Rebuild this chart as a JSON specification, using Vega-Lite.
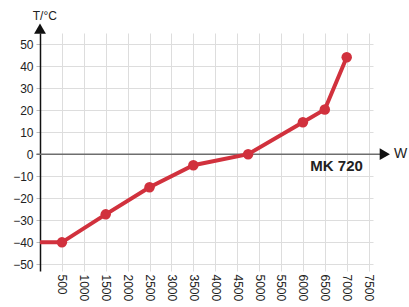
{
  "$schema": "https://vega.github.io/schema/vega-lite/v6.json",
  "width": 333,
  "height": 238,
  "autosize": {"type": "none"},
  "padding": {"left": 40, "top": 33, "right": 36, "bottom": 36},
  "config": {
    "view": {"stroke": null},
    "font": "Liberation Sans",
    "axis": {"gridColor": "#dddddd", "gridWidth": 1, "labelColor": "#222222", "labelFontSize": 12, "labelOverlap": false, "labelFlush": false}
  },
  "datasets": {
    "curve": [
      {"w": 0, "t": -40, "marker": false},
      {"w": 500, "t": -40, "marker": true},
      {"w": 1500, "t": -27.3, "marker": true},
      {"w": 2500, "t": -15, "marker": true},
      {"w": 3500, "t": -5, "marker": true},
      {"w": 4750, "t": 0, "marker": true},
      {"w": 6000, "t": 14.5, "marker": true},
      {"w": 6500, "t": 20.3, "marker": true},
      {"w": 7000, "t": 44, "marker": true}
    ]
  },
  "layer": [
    {
      "data": {"values": [{"w": -80, "w2": 7800, "t": 0}]},
      "mark": {"type": "rule", "color": "#6e6e6e", "strokeWidth": 1.5},
      "encoding": {
        "x": {"field": "w", "type": "quantitative", "scale": {"domain": [0, 7600], "nice": false, "zero": false},
          "axis": {"title": null, "format": "d", "tickCount": 40, "values": [500, 1000, 1500, 2000, 2500, 3000, 3500, 4000, 4500, 5000, 5500, 6000, 6500, 7000, 7500],
            "labelAngle": 90, "labelAlign": "left", "labelBaseline": "middle", "ticks": false, "domain": false, "labelPadding": 3, "grid": true, "orient": "bottom"}},
        "x2": {"field": "w2"},
        "y": {"field": "t", "type": "quantitative", "scale": {"domain": [-53, 55], "nice": false, "zero": false},
          "axis": {"title": null, "format": "d", "tickCount": 40, "values": [-50, -40, -30, -20, -10, 0, 10, 20, 30, 40, 50], "domain": true, "domainColor": "#111111", "domainWidth": 1.5,
            "ticks": true, "tickColor": "#bbbbbb", "tickSize": 4, "labelPadding": 3, "grid": true, "orient": "left"}}
      }
    },
    {
      "data": {"name": "curve"},
      "mark": {"type": "line", "color": "#d1313d", "strokeWidth": 4},
      "encoding": {
        "x": {"field": "w", "type": "quantitative"},
        "y": {"field": "t", "type": "quantitative"}
      }
    },
    {
      "data": {"name": "curve"},
      "transform": [{"filter": "datum.marker"}],
      "mark": {"type": "point", "filled": true, "color": "#d1313d", "size": 110, "opacity": 1},
      "encoding": {
        "x": {"field": "w", "type": "quantitative"},
        "y": {"field": "t", "type": "quantitative"}
      }
    },
    {
      "data": {"values": [{"w": 0, "t": 57, "shape": "triangle-up"}, {"w": 7870, "t": 0, "shape": "triangle-right"}]},
      "mark": {"type": "point", "filled": true, "color": "#111111", "size": 140, "opacity": 1},
      "encoding": {
        "x": {"field": "w", "type": "quantitative"},
        "y": {"field": "t", "type": "quantitative"},
        "shape": {"field": "shape", "type": "nominal", "scale": null, "legend": null}
      }
    },
    {
      "data": {"values": [{"w": 110, "t": 62.5, "label": "T/°C", "fs": "a"}]},
      "mark": {"type": "text", "fontSize": 12, "color": "#222222", "align": "center", "baseline": "middle"},
      "encoding": {
        "x": {"field": "w", "type": "quantitative"},
        "y": {"field": "t", "type": "quantitative"},
        "text": {"field": "label"}
      }
    },
    {
      "data": {"values": [{"w": 8230, "t": 0, "label": "W"}]},
      "mark": {"type": "text", "fontSize": 14, "color": "#222222", "align": "center", "baseline": "middle"},
      "encoding": {
        "x": {"field": "w", "type": "quantitative"},
        "y": {"field": "t", "type": "quantitative"},
        "text": {"field": "label"}
      }
    },
    {
      "data": {"values": [{"w": 6770, "t": -5.5, "label": "MK 720"}]},
      "mark": {"type": "text", "fontSize": 15, "fontWeight": 600, "color": "#222222", "align": "center", "baseline": "middle"},
      "encoding": {
        "x": {"field": "w", "type": "quantitative"},
        "y": {"field": "t", "type": "quantitative"},
        "text": {"field": "label"}
      }
    }
  ]
}
